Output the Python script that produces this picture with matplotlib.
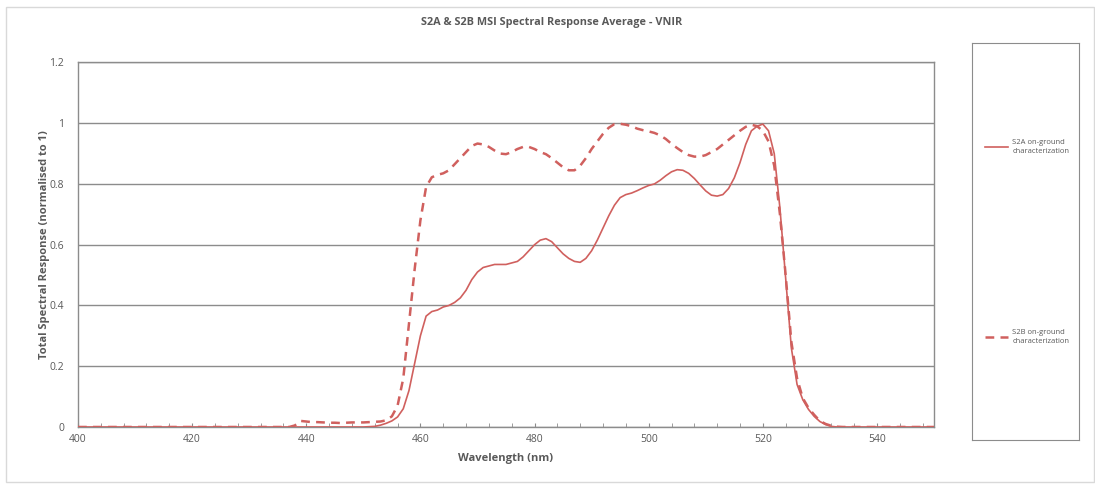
import numpy as np
import matplotlib.pyplot as plt
from matplotlib.patches import Rectangle
from matplotlib.ticker import MultipleLocator

# wavelength samples (nm) and spectral response
wl_s2a = [400, 450, 452, 453, 454, 455, 456, 457, 458, 459, 460, 461, 462, 463, 464, 465,
          466, 467, 468, 469, 470, 471, 472, 473, 474, 475, 476, 477, 478, 479, 480, 481,
          482, 483, 484, 485, 486, 487, 488, 489, 490, 491, 492, 493, 494, 495, 496, 497,
          498, 499, 500, 501, 502, 503, 504, 505, 506, 507, 508, 509, 510, 511, 512, 513,
          514, 515, 516, 517, 518, 519, 520, 521, 522, 523, 524, 525, 526, 527, 528, 529,
          530, 531, 532, 533, 550]
s2a = [0, 0, 0.002, 0.006, 0.012, 0.02, 0.033, 0.06, 0.12, 0.21, 0.30, 0.365, 0.38, 0.385,
       0.395, 0.40, 0.41, 0.425, 0.45, 0.485, 0.51, 0.525, 0.53, 0.535, 0.535, 0.535, 0.54,
       0.545, 0.56, 0.58, 0.60, 0.615, 0.62, 0.61, 0.59, 0.57, 0.555, 0.545, 0.542, 0.555,
       0.58, 0.615, 0.655, 0.695, 0.73, 0.755, 0.765, 0.77, 0.778, 0.787, 0.795, 0.80,
       0.812, 0.827, 0.84, 0.847, 0.845, 0.835, 0.818, 0.797, 0.777, 0.763, 0.76, 0.765,
       0.785, 0.82, 0.87, 0.93, 0.975, 0.99, 0.997, 0.975, 0.90, 0.72, 0.49, 0.26, 0.14,
       0.09, 0.058, 0.035, 0.018, 0.008, 0.002, 0, 0]

wl_s2b = [400, 437, 438, 439, 440, 441, 442, 443, 444, 445, 446, 447, 448, 449, 450, 451,
          452, 453, 454, 455, 456, 457, 458, 459, 460, 461, 462, 463, 464, 465, 466, 467,
          468, 469, 470, 471, 472, 473, 474, 475, 476, 477, 478, 479, 480, 481, 482, 483,
          484, 485, 486, 487, 488, 489, 490, 491, 492, 493, 494, 495, 496, 497, 498, 499,
          500, 501, 502, 503, 504, 505, 506, 507, 508, 509, 510, 511, 512, 513, 514, 515,
          516, 517, 518, 519, 520, 521, 522, 523, 524, 525, 526, 527, 528, 529, 530, 531,
          532, 533, 534, 550]
s2b = [0, 0, 0.005, 0.02, 0.018, 0.016, 0.016, 0.015, 0.014, 0.014, 0.013, 0.014, 0.015,
       0.015, 0.015, 0.016, 0.017, 0.018, 0.022, 0.035, 0.07, 0.16, 0.34, 0.52, 0.68, 0.79,
       0.822, 0.83, 0.835, 0.845, 0.865, 0.885, 0.905, 0.925, 0.933, 0.93, 0.922, 0.91,
       0.90, 0.898, 0.905, 0.915, 0.922, 0.922, 0.915, 0.905, 0.898, 0.885, 0.87, 0.855,
       0.845, 0.845, 0.86, 0.885, 0.915, 0.94, 0.965, 0.985, 0.997, 0.998, 0.995, 0.99,
       0.982, 0.977, 0.973, 0.968, 0.96, 0.948, 0.932, 0.918, 0.905, 0.895, 0.89, 0.89,
       0.895, 0.905, 0.915, 0.93, 0.945, 0.96, 0.975, 0.988, 0.995, 0.99, 0.975, 0.94,
       0.86, 0.70, 0.50, 0.28, 0.16, 0.095, 0.063, 0.04, 0.02, 0.01, 0.004, 0.001, 0, 0]

labels = ['S2A on-ground\ncharacterization', 'S2B on-ground\ncharacterization']

red = '#D0605E'
grey_txt = '#595959'
grid_c = '#8C8C8C'
plt.rcParams['font.family'] = ['Open Sans', 'DejaVu Sans']

fig = plt.figure(figsize=(10.95, 4.84), dpi=100)
fig.patches.append(Rectangle((6 / 1095, 1 - 482 / 484), 1088 / 1095, 475 / 484,
                             transform=fig.transFigure, fill=False, ec='#D9D9D9', lw=1))

ax = fig.add_axes([0.0712, 0.1178, 0.7818, 0.7532])
ax.plot(wl_s2a, s2a, color=red, lw=1.2, zorder=3)
ax.plot(wl_s2b, s2b, color=red, lw=1.8, ls=(0, (3.5, 2.5)), zorder=3)

ax.set_xlim(400, 550)
ax.set_ylim(0, 1.2)
ax.xaxis.set_major_locator(MultipleLocator(20))
ax.xaxis.set_minor_locator(MultipleLocator(4))
ax.set_yticks(np.arange(0, 1.21, 0.2))
ax.set_yticklabels(['0', '0.2', '0.4', '0.6', '0.8', '1', '1.2'])
ax.set_xticks([400, 420, 440, 460, 480, 500, 520, 540])
ax.grid(axis='y', color=grid_c, lw=1)
ax.set_axisbelow(True)
ax.tick_params(axis='x', which='both', direction='in', length=3, color=grid_c,
               labelsize=7.5, labelcolor=grey_txt, pad=5)
ax.tick_params(axis='y', length=0, labelsize=7.5, labelcolor=grey_txt, pad=10)
for s in ax.spines.values():
    s.set_color(grid_c)
    s.set_linewidth(1)

ax.set_xlabel('Wavelength (nm)', fontsize=8, fontweight='bold', color=grey_txt, labelpad=6)
ax.set_ylabel('Total Spectral Response (normalised to 1)', fontsize=8, fontweight='bold',
              color=grey_txt, va='center')
ax.yaxis.set_label_coords(-0.039, 0.5)
fig.text(552 / 1095, 1 - 22 / 484, 'S2A & S2B MSI Spectral Response Average - VNIR',
         ha='center', va='center', fontsize=7.8, fontweight='bold', color=grey_txt)

# legend box drawn by hand to keep the wide Excel spacing
lg = fig.add_axes([0.8874, 0.0909, 0.098, 0.8196])
lg.set_xlim(0, 1)
lg.set_ylim(0, 1)
lg.set_xticks([])
lg.set_yticks([])
for s in lg.spines.values():
    s.set_color(grid_c)
lg.plot([0.12, 0.34], [0.738, 0.738], color=red, lw=1.2)
lg.text(0.38, 0.738, labels[0], fontsize=5.5, color=grey_txt, va='center', linespacing=1.5)
lg.plot([0.12, 0.34], [0.26, 0.26], color=red, lw=1.8, ls=(0, (3.5, 2.5)))
lg.text(0.38, 0.26, labels[1], fontsize=5.5, color=grey_txt, va='center', linespacing=1.5)

fig.savefig('out.png', dpi=100)
